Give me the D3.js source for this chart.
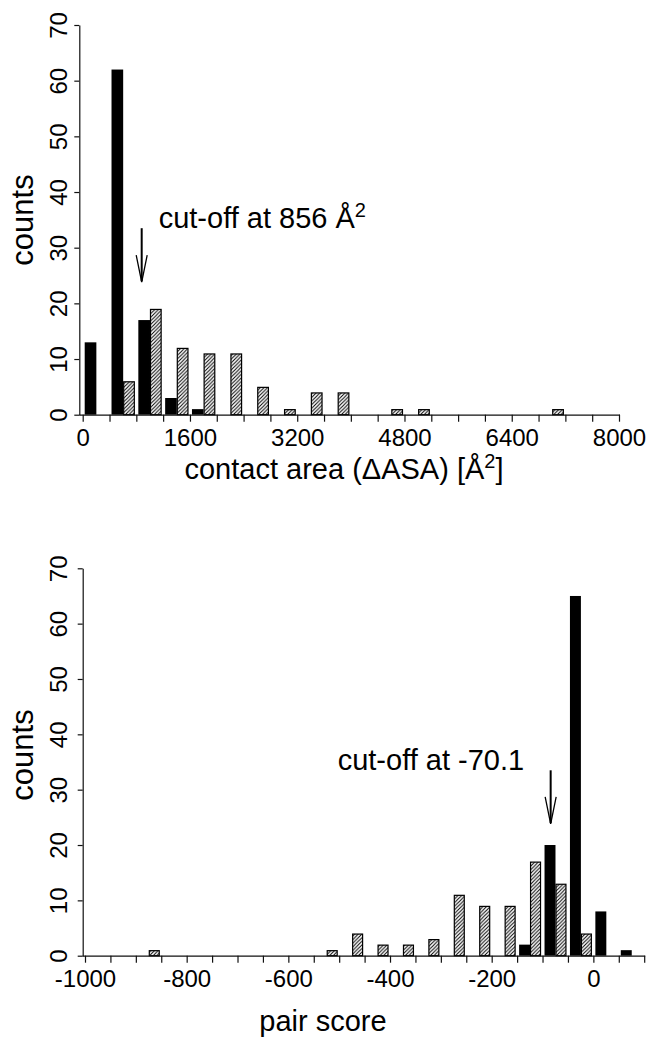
<!DOCTYPE html>
<html>
<head>
<meta charset="utf-8">
<script src="https://d3js.org/d3.v7.min.js"></script>
<style>
  body { margin: 0; background: #fff; }
  svg text { font-family: "Liberation Sans", Arial, Helvetica, sans-serif; fill: #000; }
</style>
</head>
<body>
<svg id="chart"></svg>
<script>
  // ---- data ----
  // contact area histogram, bins of 400 A^2
  var areaBins = [0, 400, 800, 1200, 1600, 2000, 2400, 2800, 3200, 3600,
    4000, 4400, 4800, 5200, 5600, 6000, 6400, 6800, 7200, 7600];
  var areaSolid = [13, 62, 17, 3, 1, 0, 0, 0, 0, 0, 0, 0, 0, 0, 0, 0, 0, 0, 0, 0];
  var areaHatched = [0, 6, 19, 12, 11, 11, 5, 1, 4, 4, 0, 1, 1, 0, 0, 0, 0, 1, 0, 0];
  var areaTicks = [0, 400, 800, 1200, 1600, 2000, 2400, 2800, 3200, 3600, 4000,
    4400, 4800, 5200, 5600, 6000, 6400, 6800, 7200, 7600, 8000];
  var areaTickLabels = [0, 1600, 3200, 4800, 6400, 8000];

  // pair score histogram, bins of 50
  var scoreBins = [-1000, -950, -900, -850, -800, -750, -700, -650, -600, -550, -500,
    -450, -400, -350, -300, -250, -200, -150, -100, -50, 0, 50];
  var scoreSolid = [0, 0, 0, 0, 0, 0, 0, 0, 0, 0, 0, 0, 0, 0, 0, 0, 0, 2, 20, 65, 8, 1];
  var scoreHatched = [0, 0, 1, 0, 0, 0, 0, 0, 0, 1, 4, 2, 2, 3, 11, 9, 9, 17, 13, 4, 0, 0];
  var scoreTicks = [-1000, -950, -900, -850, -800, -750, -700, -650, -600, -550, -500,
    -450, -400, -350, -300, -250, -200, -150, -100, -50, 0, 50, 100];
  var scoreTickLabels = [-1000, -800, -600, -400, -200, 0];

  var countTicks = [0, 10, 20, 30, 40, 50, 60, 70];

  var width = 648;
  var height = 1040;

  var svg = d3.select("#chart")
    .attr("width", width)
    .attr("height", height);

  var defs = svg.append("defs");
  var hatch = defs.append("pattern")
    .attr("id", "hatch")
    .attr("patternUnits", "userSpaceOnUse")
    .attr("width", 3.6)
    .attr("height", 3.6);
  hatch.append("rect").attr("width", 3.6).attr("height", 3.6).attr("fill", "#fff");
  hatch.append("path")
    .attr("d", "M-0.9,0.9 l1.8,-1.8 M0,3.6 l3.6,-3.6 M2.7,4.5 l1.8,-1.8")
    .attr("stroke", "#000")
    .attr("stroke-width", 1);

  function drawPanel(p) {
    var x = d3.scaleLinear().domain(p.xDomain).range(p.xRange);
    var y = d3.scaleLinear().domain([0, 70]).range(p.yRange);
    var g = svg.append("g");

    // bars: solid on the left half of the bin, hatched on the right half
    var bins = p.bins.map((b, i) => ({
      x0: b, solid: p.solid[i], hatched: p.hatched[i]
    }));
    function half(d, k) {
      var a = x(d.x0) + 2;
      var b = x(d.x0 + p.binWidth) - 1.5;
      var w = (b - a) / 2;
      return a + k * w;
    }
    var barW = d => ((x(d.x0 + p.binWidth) - 1.5) - (x(d.x0) + 2)) / 2;

    g.selectAll(".solid")
      .data(bins.filter(d => d.solid > 0))
      .enter()
      .append("rect")
      .attr("class", "solid")
      .attr("x", d => half(d, 0))
      .attr("width", barW)
      .attr("y", d => y(d.solid))
      .attr("height", d => y(0) - y(d.solid))
      .attr("fill", "#000");

    g.selectAll(".hatched")
      .data(bins.filter(d => d.hatched > 0))
      .enter()
      .append("rect")
      .attr("class", "hatched")
      .attr("x", d => half(d, 1) + 0.5)
      .attr("width", d => barW(d) - 1)
      .attr("y", d => y(d.hatched) + 0.5)
      .attr("height", d => y(0) - y(d.hatched) - 0.5)
      .attr("fill", "url(#hatch)")
      .attr("stroke", "#000")
      .attr("stroke-width", 1.2);

    // x axis
    var xAxis = g.append("g")
      .attr("transform", "translate(0," + y(0) + ")")
      .call(d3.axisBottom(x)
        .tickValues(p.xTicks)
        .tickSize(7)
        .tickSizeOuter(0)
        .tickFormat(d => p.xLabels.indexOf(d) > -1 ? String(d) : ""));
    xAxis.select(".domain").remove();
    xAxis.selectAll(".tick line").attr("stroke", "#111").attr("stroke-width", 1.2);
    xAxis.selectAll("text")
      .attr("y", 31)
      .attr("dy", null)
      .style("font-size", "24px")
      .style("font-family", "'Liberation Sans', Arial, sans-serif");
    g.append("line")
      .attr("x1", p.yAxisX)
      .attr("x2", p.xRange[1] + 1)
      .attr("y1", y(0) + 0.5)
      .attr("y2", y(0) + 0.5)
      .attr("stroke", "#111")
      .attr("stroke-width", 1.2);

    // y axis
    var yAxis = g.append("g")
      .attr("transform", "translate(" + p.yAxisX + ",0)")
      .call(d3.axisLeft(y)
        .tickValues(countTicks)
        .tickSize(5)
        .tickSizeOuter(0)
        .tickFormat(d => String(d)));
    yAxis.select(".domain").attr("stroke", "#111").attr("stroke-width", 1.2);
    yAxis.selectAll(".tick line").attr("stroke", "#111").attr("stroke-width", 1.2);
    yAxis.selectAll("text")
      .attr("x", null)
      .attr("dy", null)
      .attr("text-anchor", "middle")
      .attr("transform", "translate(" + p.yLabelOffset + ",0) rotate(-90)")
      .style("font-size", "24px")
      .style("font-family", "'Liberation Sans', Arial, sans-serif");

    // y title
    g.append("text")
      .attr("transform", "translate(33," + p.countsY + ") rotate(-90)")
      .attr("text-anchor", "middle")
      .style("font-size", "31px")
      .text("counts");

    // x title
    var xt = g.append("text")
      .attr("x", p.titleX)
      .attr("y", p.titleY)
      .attr("text-anchor", "middle")
      .style("font-size", "29px");
    p.title(xt);

    // cut-off arrow
    var ax = x(p.arrowAt);
    var top = y(33.5), tip = y(23.8);
    g.append("line")
      .attr("x1", ax).attr("x2", ax)
      .attr("y1", top).attr("y2", tip - 1)
      .attr("stroke", "#000")
      .attr("stroke-width", 2);
    g.append("path")
      .attr("d", "M" + (ax - 5.5) + "," + (tip - 27) + " L" + ax + "," + tip +
        " L" + (ax + 5.5) + "," + (tip - 27))
      .attr("fill", "none")
      .attr("stroke", "#000")
      .attr("stroke-width", 1.3);

    var note = g.append("text")
      .attr("x", ax + p.noteDx)
      .attr("y", top)
      .style("font-size", "29px");
    p.note(note);
  }

  drawPanel({
    bins: areaBins, solid: areaSolid, hatched: areaHatched, binWidth: 400,
    xDomain: [0, 8000], xRange: [82.7, 619],
    yRange: [414.7, 25], yAxisX: 79.3, yLabelOffset: -12,
    xTicks: areaTicks, xLabels: areaTickLabels,
    countsY: 220, titleX: 344, titleY: 479,
    title: t => {
      t.append("tspan").text("contact area (\u0394ASA) [\u00C5");
      t.append("tspan").attr("dy", -11).style("font-size", "20px").text("2");
      t.append("tspan").attr("dy", 11).text("]");
    },
    arrowAt: 880, noteDx: 17,
    note: t => {
      t.append("tspan").text("cut-off at 856 \u00C5");
      t.append("tspan").attr("dy", -11).style("font-size", "20px").text("2");
    }
  });

  drawPanel({
    bins: scoreBins, solid: scoreSolid, hatched: scoreHatched, binWidth: 50,
    xDomain: [-1000, 100], xRange: [85, 644.2],
    yRange: [955.7, 568.3], yAxisX: 82.7, yLabelOffset: -16,
    xTicks: scoreTicks, xLabels: scoreTickLabels,
    countsY: 755, titleX: 323, titleY: 1031,
    title: t => t.text("pair score"),
    arrowAt: -84, noteDx: -213,
    note: t => t.text("cut-off at -70.1")
  });
</script>
</body>
</html>
